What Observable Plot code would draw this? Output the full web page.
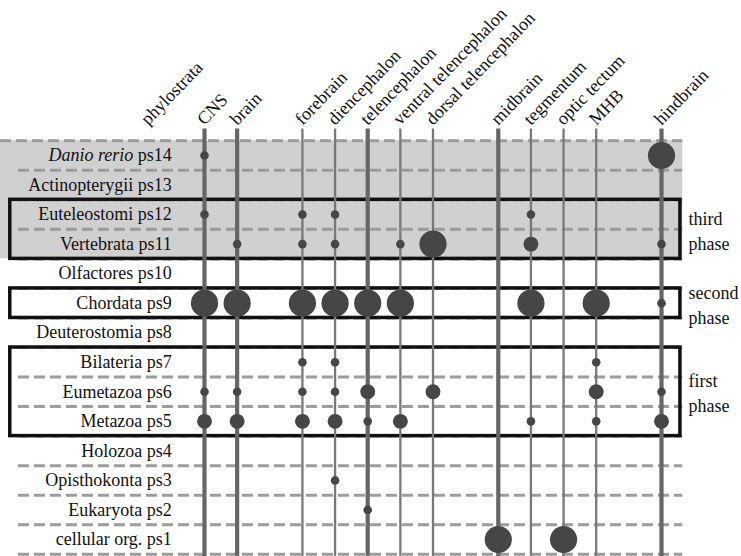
<!DOCTYPE html>
<html>
<head>
<meta charset="utf-8">
<script src="https://cdn.jsdelivr.net/npm/d3@7"></script>
<script src="https://cdn.jsdelivr.net/npm/@observablehq/plot@0.6"></script>
<style>
  html, body { margin: 0; padding: 0; background: #fff; }
  #chart svg { display: block; }
  #chart svg text, #chart svg tspan { font-family: "Liberation Serif", "Times New Roman", serif; }
</style>
</head>
<body>
<div id="chart"></div>
<script>
// Phylostrata (rows), from youngest (ps14) to oldest (ps1)
const phylostrata = ["Danio rerio", "Actinopterygii", "Euteleostomi", "Vertebrata", "Olfactores",
  "Chordata", "Deuterostomia", "Bilateria", "Eumetazoa", "Metazoa", "Holozoa",
  "Opisthokonta", "Eukaryota", "cellular org."];
const psNumbers = [14, 13, 12, 11, 10, 9, 8, 7, 6, 5, 4, 3, 2, 1];

// Brain regions (columns) and the anatomical group each belongs to
const regions = ["CNS", "brain", "forebrain", "diencephalon", "telencephalon",
  "ventral telencephalon", "dorsal telencephalon", "midbrain", "tegmentum",
  "optic tectum", "MHB", "hindbrain"];
const regionGroup = [0, 0, 1, 1, 1, 1, 1, 2, 2, 2, 2, 3];
const regionMajor = [true, true, false, false, true, false, false, true, false, false, false, true];

// Enrichment: [phylostratum, region, level]  (level 1 = weak, 3 = medium, 10 = strong)
const enrichment = [
  [14, "CNS", 1], [14, "hindbrain", 10],
  [12, "CNS", 1], [12, "forebrain", 1], [12, "diencephalon", 1], [12, "tegmentum", 1],
  [11, "brain", 1], [11, "forebrain", 1], [11, "diencephalon", 1], [11, "ventral telencephalon", 1],
  [11, "dorsal telencephalon", 10], [11, "tegmentum", 3], [11, "hindbrain", 1],
  [9, "CNS", 10], [9, "brain", 10], [9, "forebrain", 10], [9, "diencephalon", 10],
  [9, "telencephalon", 10], [9, "ventral telencephalon", 10], [9, "tegmentum", 10],
  [9, "MHB", 10], [9, "hindbrain", 1],
  [7, "forebrain", 1], [7, "diencephalon", 1], [7, "MHB", 1],
  [6, "CNS", 1], [6, "brain", 1], [6, "forebrain", 1], [6, "diencephalon", 1],
  [6, "telencephalon", 3], [6, "dorsal telencephalon", 3], [6, "MHB", 3], [6, "hindbrain", 1],
  [5, "CNS", 3], [5, "brain", 3], [5, "forebrain", 3], [5, "diencephalon", 3],
  [5, "telencephalon", 1], [5, "ventral telencephalon", 3], [5, "tegmentum", 1],
  [5, "MHB", 1], [5, "hindbrain", 3],
  [3, "diencephalon", 1],
  [2, "telencephalon", 1],
  [1, "midbrain", 10], [1, "optic tectum", 10]
];

// Phases (boxes): label, first and last phylostratum
const phases = [
  ["third\nphase", 12, 11],
  ["second\nphase", 9, 9],
  ["first\nphase", 7, 5]
];
// Fish-specific band (grey background)
const shadedRange = [14, 11];
const rowHeader = "phylostrata";

// ---- derived tables ----
const colPos = new Map(regions.map((r, i) => [r, i + regionGroup[i]]));
const columns = regions.map((r, i) => ({name: r, pos: colPos.get(r), major: regionMajor[i]}));
const rows = phylostrata.map((n, i) => ({ps: psNumbers[i], label: n + " ps" + psNumbers[i]}));
const dots = enrichment.map(([ps, region, level]) => ({ps, x: colPos.get(region), level}));
const boundaries = d3.range(0.5, 15, 1);
const phaseRows = phases.map(([label, top, bottom]) => ({label, top, bottom}));

const LEFT = -6.25, RIGHT = 14.65, BOX_LEFT = -5.95, BOX_RIGHT = 14.58, DASH_LEFT = -5.7;
const serif = "'Liberation Serif', 'Times New Roman', serif";

const chart = Plot.plot({
  width: 741,
  height: 556,
  margin: 0,
  style: {fontFamily: serif, fontSize: "18px", background: "#fff", color: "#111"},
  x: {type: "linear", domain: [0, 14], range: [204, 661], axis: null},
  y: {type: "linear", domain: [14, 1], range: [155, 539], axis: null},
  r: {type: "sqrt", domain: [0, 10], range: [0, 13.6]},
  marks: [
    Plot.rect([shadedRange], {x1: () => LEFT, x2: () => RIGHT,
      y1: d => d[0] + 0.5, y2: d => d[1] - 0.5, fill: "#d0d0d0"}),
    Plot.ruleY(boundaries, {y: d => d, x1: d => d > 14 ? LEFT : DASH_LEFT, x2: () => RIGHT,
      stroke: "#9c9c9c", strokeWidth: 3, strokeDasharray: "11,5"}),
    Plot.rect(phaseRows, {x1: () => BOX_LEFT, x2: () => BOX_RIGHT,
      y1: d => d.top + 0.5, y2: d => d.bottom - 0.5,
      fill: "none", stroke: "#111", strokeWidth: 3.5}),
    Plot.ruleX(columns, {x: "pos", y1: () => 14.9, y2: () => 0.25,
      stroke: d => d.major ? "#666666" : "#787878",
      strokeWidth: d => d.major ? 4.2 : 2.3}),
    Plot.dot(dots, {x: "x", y: "ps", r: "level", fill: "#464646", stroke: "none"}),
    Plot.text(rows, {x: () => -1, y: "ps", text: "label", textAnchor: "end",
      fontFamily: serif, fontSize: 18, fill: "#111"}),
    Plot.text(columns, {x: "pos", y: () => 14.9, text: "name", rotate: -46,
      textAnchor: "start", lineAnchor: "bottom", dx: 0, dy: -3,
      fontFamily: serif, fontSize: 18, fill: "#111"}),
    Plot.text([rowHeader], {x: () => -1.72, y: () => 14.9, text: d => d, rotate: -46,
      textAnchor: "start", lineAnchor: "bottom", dx: 0, dy: -3,
      fontFamily: serif, fontSize: 18, fill: "#111"}),
    Plot.text(phaseRows, {x: () => 14.83, y: d => (d.top + d.bottom) / 2, text: "label",
      textAnchor: "start", lineAnchor: "middle", lineHeight: 1.4,
      fontFamily: serif, fontSize: 18, fill: "#111"})
  ]
});

// Italicise the species name
d3.select(chart).selectAll("text").each(function() {
  const t = this.textContent;
  if (t.startsWith("Danio rerio")) {
    const rest = t.slice("Danio rerio".length);
    d3.select(this).text(null);
    d3.select(this).append("tspan").attr("font-style", "italic").text("Danio rerio");
    d3.select(this).append("tspan").text(rest);
  }
});

document.getElementById("chart").appendChild(chart);
</script>
</body>
</html>
